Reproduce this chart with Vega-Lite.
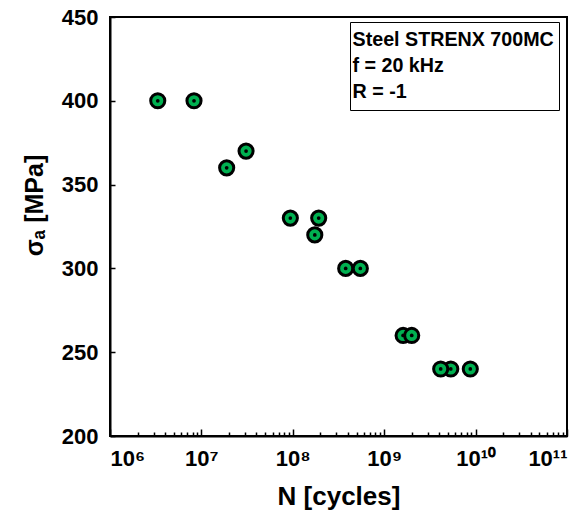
{
  "$schema": "https://vega.github.io/schema/vega-lite/v6.json",
  "width": 457,
  "height": 419,
  "autosize": {"type": "none"},
  "padding": {"left": 110, "top": 17, "right": 19, "bottom": 74},
  "background": "white",
  "config": {
    "view": {"stroke": "black", "strokeWidth": 2},
    "font": "Liberation Sans",
    "axis": {
      "grid": false,
      "domainColor": "black",
      "domainWidth": 2,
      "tickColor": "black",
      "tickWidth": 1.5,
      "labelColor": "black",
      "labelFont": "Liberation Sans",
      "labelFontWeight": "bold",
      "labelFontSize": 22,
      "titleColor": "black",
      "titleFont": "Liberation Sans",
      "titleFontWeight": "bold",
      "titleFontSize": 25
    }
  },
  "datasets": {
    "pts": [
      {"N": 3.33e6, "S": 400},
      {"N": 8.3e6, "S": 400},
      {"N": 1.89e7, "S": 360},
      {"N": 3.08e7, "S": 370},
      {"N": 9.4e7, "S": 330},
      {"N": 1.74e8, "S": 320},
      {"N": 1.92e8, "S": 330},
      {"N": 3.79e8, "S": 300},
      {"N": 5.48e8, "S": 300},
      {"N": 1.61e9, "S": 260},
      {"N": 2.0e9, "S": 260},
      {"N": 5.35e9, "S": 240},
      {"N": 4.15e9, "S": 240},
      {"N": 8.75e9, "S": 240}
    ],
    "note": [
      {"line": "Steel STRENX 700MC"},
      {"line": "\u00a0f = 20 kHz"},
      {"line": "R = -1"}
    ]
  },
  "layer": [
    {
      "data": {"name": "pts"},
      "mark": {"type": "point", "shape": "circle", "filled": true, "fill": "#00B050", "stroke": "black", "strokeWidth": 3, "size": 200, "opacity": 1},
      "encoding": {
        "x": {
          "field": "N", "type": "quantitative",
          "scale": {"type": "log", "domain": [1e6, 1e11], "nice": false},
          "axis": {
            "orient": "bottom",
            "values": [1e6, 1e7, 1e8, 1e9, 1e10, 1e11],
            "tickSize": -7,
            "labelPadding": 19,
            "labelExpr": "datum.value < 5e6 ? '10⁶' : datum.value < 5e7 ? '10⁷' : datum.value < 5e8 ? '10⁸' : datum.value < 5e9 ? '10⁹' : datum.value < 5e10 ? '10¹⁰' : '10¹¹'",
            "title": "N [cycles]",
            "titleFontSize": 26,
            "titlePadding": 14
          }
        },
        "y": {
          "field": "S", "type": "quantitative",
          "scale": {"domain": [200, 450], "nice": false, "zero": false},
          "axis": {
            "values": [200, 250, 300, 350, 400, 450],
            "tickSize": -5,
            "labelPadding": 17,
            "title": "σₐ [MPa]",
            "titlePadding": 14,
            "titleY": 188
          }
        }
      }
    },
    {
      "data": {"name": "pts"},
      "mark": {"type": "circle", "fill": "black", "size": 14, "opacity": 1},
      "encoding": {
        "x": {"field": "N", "type": "quantitative", "scale": {"type": "log", "domain": [1e6, 1e11], "nice": false}, "axis": null},
        "y": {"field": "S", "type": "quantitative", "scale": {"domain": [200, 450], "nice": false, "zero": false},
          "axis": {
            "values": [200, 250, 300, 350, 400, 450],
            "tickSize": -5,
            "labelPadding": 17,
            "title": "σₐ [MPa]",
            "titlePadding": 14,
            "titleY": 188
          }}
      }
    },
    {
      "data": {"name": "pts"},
      "mark": {"type": "point", "opacity": 0},
      "encoding": {
        "x": {
          "field": "N", "type": "quantitative",
          "scale": {"type": "log", "domain": [1e6, 1e11], "nice": false},
          "axis": {
            "orient": "bottom",
            "values": [2e6, 3e6, 4e6, 5e6, 6e6, 7e6, 8e6, 9e6, 2e7, 3e7, 4e7, 5e7, 6e7, 7e7, 8e7, 9e7, 2e8, 3e8, 4e8, 5e8, 6e8, 7e8, 8e8, 9e8, 2e9, 3e9, 4e9, 5e9, 6e9, 7e9, 8e9, 9e9, 2e10, 3e10, 4e10, 5e10, 6e10, 7e10, 8e10, 9e10],
            "tickSize": -4,
            "labels": false,
            "domain": false,
            "title": null
          }
        }
      }
    },
    {
      "data": {"name": "note"},
      "mark": {"type": "point", "opacity": 0},
      "encoding": {
        "color": {
          "field": "line", "type": "nominal",
          "scale": {"domain": ["Steel STRENX 700MC", "\u00a0f = 20 kHz", "R = -1"], "range": ["white", "white", "white"]},
          "legend": {
            "orient": "none",
            "legendX": 240,
            "legendY": 5,
            "title": null,
            "labelFont": "Liberation Sans",
            "labelFontSize": 19.7,
            "labelFontWeight": "bold",
            "labelColor": "black",
            "labelLimit": 400,
            "labelOffset": -28.5,
            "symbolSize": 650,
            "symbolOpacity": 0,
            "symbolStrokeWidth": 0,
            "rowPadding": 0,
            "padding": 5,
            "strokeColor": "black",
            "fillColor": "white"
          }
        }
      }
    }
  ],
  "resolve": {"axis": {"x": "independent"}}
}
